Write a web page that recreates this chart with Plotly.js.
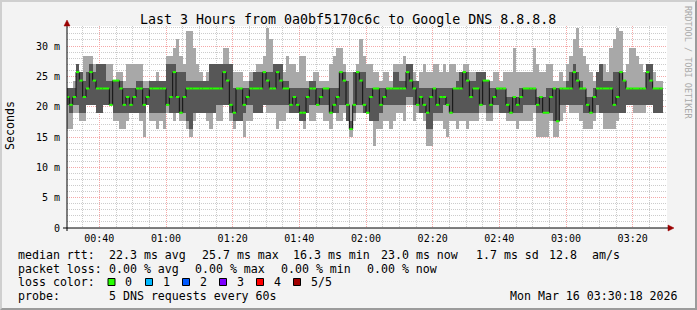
<!DOCTYPE html>
<html><head><meta charset="utf-8">
<script src="https://cdn.plot.ly/plotly-3.0.1.min.js"></script>
<style>
html,body{margin:0;padding:0;background:#f3f3f3;}
#wrap{position:relative;width:697px;height:310px;overflow:hidden;}
#chart{width:697px;height:310px;}
#frame{position:absolute;left:0;top:0;width:697px;height:310px;box-sizing:border-box;border-top:2px solid #cfcfcf;border-left:2px solid #cfcfcf;border-right:2px solid #9b9b9b;border-bottom:2px solid #9b9b9b;pointer-events:none;}
</style>
</head><body><div id="wrap"><div id="chart"></div><div id="frame"></div></div>
<script>
// ---- data (ms), one value per 1-minute step starting 00:30 ----
const stepStart = '2026-03-16 00:30:00';
const rangeStart = '2026-03-16 00:30:18';
const rangeEnd = '2026-03-16 03:30:18';
const minMs = [16.3,16.3,19.0,19.0,17.6,17.6,20.3,20.3,20.3,19.0,
19.0,20.3,20.3,20.3,17.6,17.6,16.3,16.3,17.6,19.0,
19.0,19.0,17.6,15.0,20.3,17.6,17.6,16.3,17.6,16.3,
19.0,19.0,17.6,19.0,17.6,17.6,16.3,15.0,17.6,19.0,
19.0,19.0,17.6,16.3,19.0,17.6,17.6,20.3,20.3,17.6,
16.3,17.6,17.6,15.0,17.6,17.6,19.0,19.0,19.0,20.3,
19.0,19.0,19.0,16.3,17.6,17.6,19.0,19.0,19.0,19.0,
17.6,16.3,19.0,17.6,17.6,19.0,19.0,17.6,17.6,16.3,
19.0,17.6,17.6,19.0,17.6,15.0,17.6,19.0,19.0,19.0,
19.0,17.6,13.6,16.3,16.3,17.6,17.6,16.3,17.6,19.0,
19.0,17.6,20.3,20.3,17.6,19.0,19.0,17.6,13.6,13.6,
17.6,17.6,17.6,16.3,15.0,17.6,17.6,16.3,17.6,17.6,
16.3,17.6,17.6,17.6,19.0,19.0,17.6,17.6,19.0,19.0,
19.0,19.0,17.6,17.6,17.6,16.3,17.6,17.6,17.6,17.6,
19.0,15.0,15.0,15.0,15.0,17.6,15.0,15.0,17.6,19.0,
20.3,19.0,19.0,19.0,17.6,16.3,16.3,16.3,17.6,19.0,
19.0,16.3,16.3,16.3,16.3,17.6,19.0,19.0,20.3,20.3,
19.0,19.0,19.0,19.0,20.3,20.3,19.0,19.0,19.0];
const p2Ms = [20.3,19.0,20.3,20.3,19.0,19.0,20.3,20.3,20.3,19.0,
19.0,20.3,20.3,20.3,19.0,19.0,19.0,19.0,19.0,19.0,
19.0,19.0,19.0,19.0,20.3,19.0,19.0,19.0,19.0,19.0,
20.3,19.0,19.0,19.0,19.0,19.0,17.6,16.3,19.0,19.0,
19.0,19.0,19.0,19.0,19.0,20.3,20.3,20.3,20.3,19.0,
17.6,17.6,17.6,19.0,20.3,20.3,19.0,19.0,19.0,20.3,
20.3,20.3,20.3,20.3,20.3,20.3,20.3,19.0,19.0,19.0,
17.6,17.6,19.0,20.3,20.3,20.3,20.3,20.3,20.3,19.0,
19.0,19.0,20.3,20.3,17.6,16.3,19.0,20.3,20.3,19.0,
19.0,17.6,17.6,17.6,19.0,20.3,20.3,20.3,20.3,20.3,
20.3,20.3,21.6,21.6,20.3,20.3,19.0,19.0,16.3,16.3,
19.0,19.0,19.0,20.3,20.3,19.0,19.0,19.0,19.0,19.0,
19.0,19.0,19.0,19.0,20.3,20.3,19.0,19.0,20.3,20.3,
19.0,19.0,19.0,19.0,19.0,19.0,19.0,20.3,20.3,20.3,
20.3,19.0,19.0,19.0,19.0,19.0,17.6,17.6,20.3,20.3,
20.3,20.3,20.3,20.3,20.3,19.0,19.0,19.0,19.0,20.3,
19.0,19.0,19.0,19.0,19.0,19.0,19.0,19.0,20.3,20.3,
20.3,20.3,20.3,20.3,20.3,20.3,19.0,19.0,19.0];
const medianMs = [21.6,20.3,21.6,25.7,24.3,21.6,23.0,25.7,24.3,23.0,
23.0,23.0,23.0,20.3,24.3,24.3,23.0,20.3,21.6,20.3,
21.6,23.0,23.0,20.3,21.6,23.0,23.0,23.0,23.0,23.0,
20.3,21.6,25.7,21.6,19.0,21.6,23.0,23.0,23.0,23.0,
23.0,23.0,23.0,23.0,23.0,23.0,23.0,25.7,24.3,20.3,
19.0,23.0,23.0,20.3,21.6,23.0,23.0,23.0,23.0,25.7,
24.3,23.0,23.0,25.7,24.3,23.0,23.0,20.3,21.6,20.3,
19.0,19.0,21.6,23.0,23.0,20.3,21.6,23.0,23.0,19.0,
20.3,21.6,25.7,24.3,20.3,16.3,20.3,25.7,24.3,20.3,
19.0,21.6,23.0,23.0,20.3,21.6,23.0,23.0,23.0,23.0,
23.0,23.0,25.7,24.3,23.0,20.3,21.6,20.3,19.0,21.6,
23.0,20.3,21.6,21.6,20.3,19.0,23.0,23.0,23.0,25.7,
24.3,21.6,23.0,23.0,20.3,24.3,24.3,20.3,21.6,23.0,
23.0,23.0,20.3,19.0,21.6,20.3,21.6,23.0,23.0,23.0,
23.0,20.3,21.6,19.0,19.0,21.6,23.0,17.6,23.0,23.0,
23.0,23.0,25.7,24.3,23.0,23.0,20.3,19.0,21.6,23.0,
23.0,23.0,23.0,23.0,20.3,21.6,25.7,24.3,23.0,23.0,
23.0,23.0,23.0,23.0,25.7,24.3,23.0,23.0,23.0];
const p4Ms = [23.0,23.0,23.0,27.0,25.7,24.3,25.7,27.0,25.7,27.0,
27.0,27.0,24.3,24.3,24.3,24.3,24.3,23.0,23.0,23.0,
23.0,24.3,24.3,23.0,23.0,24.3,24.3,24.3,24.3,24.3,
27.0,27.0,27.0,25.7,25.7,25.7,24.3,24.3,24.3,24.3,
24.3,24.3,24.3,27.0,27.0,27.0,27.0,27.0,27.0,27.0,
23.0,23.0,23.0,23.0,23.0,24.3,25.7,25.7,25.7,25.7,
25.7,25.7,27.0,27.0,27.0,24.3,24.3,23.0,23.0,23.0,
23.0,23.0,23.0,24.3,24.3,23.0,23.0,23.0,23.0,23.0,
23.0,23.0,25.7,25.7,24.3,17.6,25.7,25.7,25.7,25.7,
23.0,23.0,23.0,23.0,23.0,23.0,23.0,23.0,25.7,25.7,
24.3,24.3,27.0,27.0,24.3,24.3,23.0,23.0,23.0,23.0,
23.0,23.0,23.0,23.0,23.0,23.0,23.0,24.3,25.7,25.7,
25.7,24.3,24.3,25.7,25.7,25.7,24.3,23.0,23.0,23.0,
23.0,23.0,21.6,21.6,21.6,21.6,23.0,23.0,23.0,23.0,
23.0,21.6,21.6,21.6,23.0,23.0,23.0,23.0,23.0,23.0,
24.3,25.7,27.0,25.7,24.3,23.0,21.6,21.6,23.0,25.7,
27.0,24.3,24.3,24.3,25.7,25.7,25.7,24.3,23.0,23.0,
23.0,23.0,23.0,23.0,27.0,27.0,23.0,23.0,23.0];
const maxMs = [23.0,23.0,24.3,27.0,25.7,28.4,28.4,28.4,27.0,27.0,
27.0,27.0,27.0,27.0,24.3,25.7,25.7,24.3,27.0,27.0,
27.0,27.0,27.0,24.3,24.3,24.3,24.3,25.7,24.3,24.3,
28.4,28.4,29.7,31.1,28.4,27.0,32.4,32.4,29.7,27.0,
25.7,24.3,25.7,27.0,27.0,27.0,27.0,29.7,29.7,27.0,
25.7,25.7,25.7,24.3,24.3,25.7,25.7,27.0,27.0,28.4,
33.0,31.1,27.0,27.0,27.0,25.7,28.4,27.0,27.0,25.7,
28.4,28.4,24.3,24.3,25.7,25.7,24.3,24.3,24.3,27.0,
28.4,29.7,29.7,27.0,25.7,25.7,25.7,27.0,31.1,28.4,
27.0,27.0,25.7,25.7,24.3,25.7,25.7,24.3,27.0,27.0,
27.0,28.4,27.0,27.0,25.7,24.3,25.7,27.0,25.7,25.7,
27.0,27.0,25.7,27.0,25.7,27.0,27.0,25.7,25.7,27.0,
27.0,25.7,25.7,25.7,25.7,25.7,24.3,24.3,25.7,25.7,
24.3,25.7,25.7,25.7,29.7,25.7,25.7,25.7,25.7,25.7,
29.7,27.0,25.7,25.7,27.0,27.0,24.3,24.3,25.7,24.3,
27.0,28.4,31.1,33.0,29.7,28.4,27.0,25.7,24.3,25.7,
27.0,27.0,25.7,29.7,31.1,33.0,32.4,25.7,27.0,29.7,
29.7,28.4,27.0,25.7,27.0,27.0,25.7,24.3,24.3];
const yTickVals = [0,5,10,15,20,25,30];
const yTickText = ['0','5 m','10 m','15 m','20 m','25 m','30 m'];
const lossLabels = ['0','1','2','3','4','5/5'];
const lossColors = ['#26ff00','#00b8ff','#0059ff','#7e00ff','#ff0000','#a10000'];
const statsRtt = ['median rtt:','22.3 ms avg','25.7 ms max','16.3 ms min','23.0 ms now','1.7 ms sd','12.8','am/s'];
const statsLoss = ['packet loss:','0.00 % avg','0.00 % max','0.00 % min','0.00 % now'];
const probeText = ['probe:','5 DNS requests every 60s'];
const stampText = 'Mon Mar 16 03:30:18 2026';
const titleText = 'Last 3 Hours from 0a0bf5170c6c to Google DNS 8.8.8.8';

// ---- build ----
const STEP = 60000;
const t0 = Date.parse(stepStart.replace(' ', 'T') + 'Z');
const n = medianMs.length;
const xc = [], outerH = [], innerH = [], gx = [], gy = [];
for (let i = 0; i < n; i++) {
  xc.push(t0 + (i + 0.5) * STEP);
  outerH.push(maxMs[i] - minMs[i]);
  innerH.push(p4Ms[i] - p2Ms[i]);
  gx.push(t0 + i * STEP, t0 + (i + 1) * STEP, null);
  gy.push(medianMs[i], medianMs[i], null);
}
const MONO = 'DejaVu Sans Mono, monospace';
const L = 67, R = 667, T = 26, B = 228;
const px = x => (x - L) / (R - L);
const py = y => (B - y) / (B - T);

const traces = [
  {type:'bar', x:xc, y:outerH, base:minMs, width:STEP, marker:{color:'#a8a8a8', line:{width:0}}, hoverinfo:'skip'},
  {type:'bar', x:xc, y:innerH, base:p2Ms, width:STEP, marker:{color:'#575757', line:{width:0}}, hoverinfo:'skip'},
  {type:'scatter', mode:'lines', x:xc, y:medianMs, line:{shape:'hvh', color:'#111111', width:1}, hoverinfo:'skip'},
  {type:'scatter', mode:'lines', x:gx, y:gy, line:{color:lossColors[0], width:2}, connectgaps:false, hoverinfo:'skip'}
];

const ann = [];
const txt = (text, x, y, opts) => ann.push(Object.assign({text:text, xref:'paper', yref:'paper', x:px(x), y:py(y), xanchor:'left', yanchor:'middle', showarrow:false, font:{family:MONO, size:11.6, color:'#000'}}, opts || {}));
txt(titleText, 347.5, 19.3, {xanchor:'center', font:{family:MONO, size:13.3, color:'#000'}});
txt('Seconds', 10, 126, {xanchor:'center', textangle:-90, font:{family:MONO, size:11.6, color:'#000'}});
txt('RRDTOOL / TOBI OETIKER', 688, 62, {xanchor:'center', textangle:90, font:{family:MONO, size:8.5, color:'#a9a9a9'}});
const rttX = [16,107,200,291,379,474,547,590];
statsRtt.forEach((s, k) => txt(s, rttX[k], 255));
const lossX = [16,107,193,279,365];
statsLoss.forEach((s, k) => txt(s, lossX[k], 268.5));
txt('loss color:', 16, 282);
const boxX = [108,145.5,182.5,219.5,256.5,293.5];
const shapes = [];
lossLabels.forEach((s, k) => {
  shapes.push({type:'rect', xref:'paper', yref:'paper', x0:px(boxX[k]), x1:px(boxX[k]+7), y0:py(285.5), y1:py(278.5), fillcolor:lossColors[k], line:{color:'#000', width:1}});
  txt(s, boxX[k] + 15, 282);
});
txt(probeText[0], 16, 295.5);
txt(probeText[1], 107, 295.5);
txt(stampText, 680, 295.5, {xanchor:'right'});

// axes with arrows
shapes.push({type:'line', xref:'paper', yref:'paper', x0:px(63), x1:px(670), y0:0, y1:0, line:{color:'#000', width:1}});
shapes.push({type:'line', xref:'paper', yref:'paper', x0:0, x1:0, y0:py(231), y1:py(22), line:{color:'#000', width:1}});
shapes.push({type:'path', xref:'paper', yref:'paper', path:`M ${px(668)},${py(225)} L ${px(674)},${py(228)} L ${px(668)},${py(231)} Z`, fillcolor:'#9b0000', line:{color:'#9b0000', width:0.5}});
shapes.push({type:'path', xref:'paper', yref:'paper', path:`M ${px(64)},${py(26)} L ${px(67)},${py(20)} L ${px(70)},${py(26)} Z`, fillcolor:'#9b0000', line:{color:'#9b0000', width:0.5}});

const layout = {
  width:697, height:310,
  margin:{l:L, r:697-R, t:T, b:310-B, pad:0},
  paper_bgcolor:'#f3f3f3', plot_bgcolor:'#ffffff',
  showlegend:false, barmode:'overlay', bargap:0,
  xaxis:{type:'date', range:[rangeStart, rangeEnd], tickmode:'linear', tick0:'2026-03-16 00:00:00', dtick:1200000, tickformat:'%H:%M',
    showgrid:true, gridcolor:'#f5a8a8', griddash:'1px,1px', gridwidth:1, zeroline:false, showline:false,
    ticks:'outside', ticklen:1, tickcolor:'rgba(0,0,0,0)', tickfont:{family:MONO, size:10, color:'#000'},
    minor:{tickmode:'linear', tick0:'2026-03-16 00:00:00', dtick:300000, showgrid:true, gridcolor:'#cccccc', griddash:'1px,1px', gridwidth:1, ticks:''},
    fixedrange:true},
  yaxis:{range:[0, 33.3], tickmode:'array', tickvals:yTickVals, ticktext:yTickText,
    showgrid:true, gridcolor:'#f5a8a8', griddash:'1px,1px', gridwidth:1, zeroline:false, showline:false,
    ticks:'outside', ticklen:4, tickcolor:'rgba(0,0,0,0)', tickfont:{family:MONO, size:10, color:'#000'},
    minor:{tickmode:'linear', tick0:0, dtick:1, showgrid:true, gridcolor:'#cccccc', griddash:'1px,1px', gridwidth:1, ticks:''},
    fixedrange:true},
  annotations:ann, shapes:shapes
};
Plotly.newPlot('chart', traces, layout, {staticPlot:true, displayModeBar:false});
</script></body></html>
